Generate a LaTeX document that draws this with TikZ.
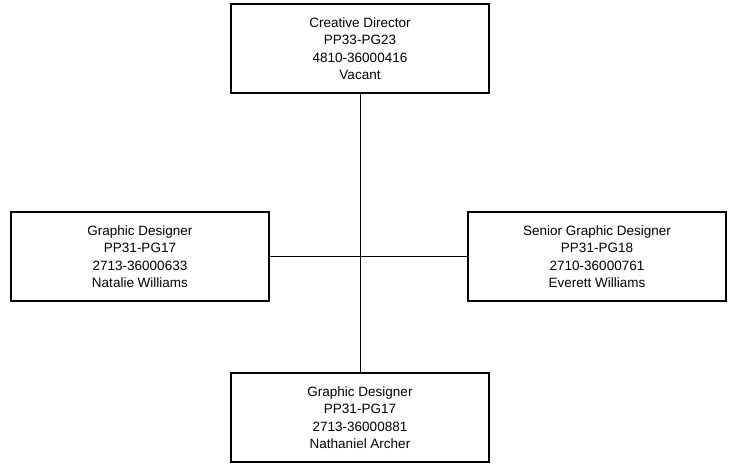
\documentclass[tikz,border=0pt]{standalone}
\usepackage{fontspec}
\setmainfont{Liberation Sans}
\begin{document}
\begin{tikzpicture}[x=1pt,y=-1pt,
  poste/.style={draw, line width=1.2pt, minimum width=258pt, minimum height=89pt,
    inner sep=0pt, align=center, font=\fontsize{13.5}{17.5}\selectfont},
  lien/.style={line width=1pt}]

% Cadre
\useasboundingbox (0,0) rectangle (730,465);

% Postes
\node[poste] (director) at (360,48.5) {Creative Director\\PP33-PG23\\4810-36000416\\Vacant};
\node[poste] (designerLeft) at (140,256.5) {Graphic Designer\\PP31-PG17\\2713-36000633\\Natalie Williams};
\node[poste] (seniorDesigner) at (597,256.5) {Senior Graphic Designer\\PP31-PG18\\2710-36000761\\Everett Williams};
\node[poste] (designerBottom) at (360,417.5) {Graphic Designer\\PP31-PG17\\2713-36000881\\Nathaniel Archer};

% Liaisons
\draw[lien] (director.south) -- (designerBottom.north);
\draw[lien] (designerLeft.east) -- (seniorDesigner.west);

\end{tikzpicture}
\end{document}
